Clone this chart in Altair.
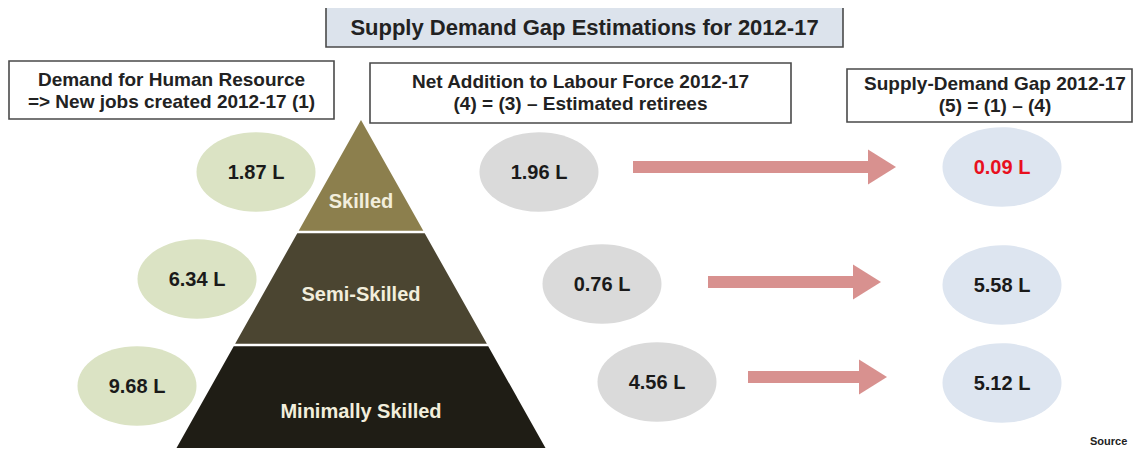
import altair as alt
import pandas as pd

# ---------------- data ----------------
title = "Supply Demand Gap Estimations for 2012-17"
header_demand = ["Demand for  Human Resource", "=> New jobs created 2012-17 (1)"]
header_supply = ["Net Addition to Labour Force 2012-17", "(4) = (3) \u2013 Estimated retirees"]
header_gap = ["Supply-Demand Gap 2012-17", "(5) = (1) \u2013 (4)"]
levels = ["Skilled", "Semi-Skilled", "Minimally Skilled"]
demand = [1.87, 6.34, 9.68]   # lakh new jobs (1)
supply = [1.96, 0.76, 4.56]   # lakh net addition to labour force (4)
gap = [0.09, 5.58, 5.12]      # lakh supply-demand gap (5)
unit = "L"
source_note = "Source"

# ---------------- layout (picture pixels) ----------------
W, H, M = 1141, 456, 8
CW, CH = W - 2 * M, H - 2 * M          # chart size that fits the window
FONT = "Liberation Sans"
title_box = (326, 843, 6, 47)
header_boxes = [(9, 334, 61, 119), (370, 791, 63, 123), (847, 1132, 69, 122)]
header_line_y = [(80, 102), (82, 104), (84, 106)]
apex_x, apex_y, base_y, base_half = 361, 120, 456, 189
band_bounds = [120, 232, 345, 456]
band_colors = ["#8c7f4d", "#4b4531", "#1f1d15"]
label_y = [202, 295, 412]
demand_pos = [(256, 172), (197, 279), (137, 386)]
supply_pos = [(539, 172), (602, 284), (657, 382)]
gap_pos = [(1002, 167), (1002, 285), (1002, 383)]
arrows = [(633, 868, 167), (708, 853, 282), (748, 859, 377)]  # shaft start, head start, centre y
ELLIPSE = ("M -1.5 0 C -1.5 -0.5523 -0.8284 -1 0 -1 C 0.8284 -1 1.5 -0.5523 1.5 0 "
           "C 1.5 0.5523 0.8284 1 0 1 C -0.8284 1 -1.5 0.5523 -1.5 0 Z")
HEAD = "M -0.8 -1 L 0.8 0 L -0.8 1 Z"

xs = alt.Scale(domain=[M, M + CW], range=[0, CW], nice=False, zero=False)
ys = alt.Scale(domain=[M, M + CH], range=[0, CH], nice=False, zero=False)


def X(f):
    return alt.X(f"{f}:Q", scale=xs, axis=None)


def Y(f):
    return alt.Y(f"{f}:Q", scale=ys, axis=None, stack=None)


# boxes
box_rows = [dict(x0=title_box[0], x1=title_box[1], y0=title_box[2], y1=title_box[3],
                 fill="#dce3ec")]
for b in header_boxes:
    box_rows.append(dict(x0=b[0], x1=b[1], y0=b[2], y1=b[3], fill="#ffffff"))
boxes = alt.Chart(pd.DataFrame(box_rows)).mark_rect(stroke="#4a4a4a", strokeWidth=1.6).encode(
    x=X("x0"), x2=alt.X2("x1:Q"), y=Y("y0"), y2=alt.Y2("y1:Q"),
    fill=alt.Fill("fill:N", scale=None))

# header texts
ht_rows = [dict(x=(title_box[0] + title_box[1]) / 2, y=(title_box[2] + title_box[3]) / 2 + 1,
                t=title, s=22)]
for b, lines, ly in zip(header_boxes, [header_demand, header_supply, header_gap], header_line_y):
    for line, yy in zip(lines, ly):
        ht_rows.append(dict(x=(b[0] + b[1]) / 2, y=yy, t=line, s=19))
ht_rows[-2]["x"] = ht_rows[-1]["x"] = 995
htext = alt.Chart(pd.DataFrame(ht_rows)).mark_text(
    font=FONT, fontWeight="bold", color="#222222", align="center", baseline="middle").encode(
    x=X("x"), y=Y("y"), text="t:N", size=alt.Size("s:Q", scale=None))


# pyramid (each band a trapezoid drawn as an area over x)
def half(y):
    return base_half * (y - apex_y) / (base_y - apex_y)


pyr_rows = []
for i, lv in enumerate(levels):
    yt = band_bounds[i] + (1.2 if i > 0 else 0)
    yb = band_bounds[i + 1] - (1.2 if i < 2 else -4)
    ht, hb = half(yt), half(yb)
    for xx, y_top in ((apex_x - hb, yb), (apex_x - ht, yt), (apex_x + ht, yt), (apex_x + hb, yb)):
        pyr_rows.append(dict(band=lv, x=xx, yt=y_top, yb=yb))
pyramid = alt.Chart(pd.DataFrame(pyr_rows)).mark_area(opacity=1).encode(
    x=X("x"), y=Y("yt"), y2=alt.Y2("yb:Q"),
    fill=alt.Fill("band:N", scale=alt.Scale(domain=levels, range=band_colors), legend=None),
    detail="band:N")

lab_rows = [dict(x=apex_x, y=yy, t=lv) for lv, yy in zip(levels, label_y)]
plabels = alt.Chart(pd.DataFrame(lab_rows)).mark_text(
    font=FONT, fontWeight="bold", fontSize=20, color="#f2eedc", align="center",
    baseline="middle").encode(x=X("x"), y=Y("y"), text="t:N")

# ellipses
ell_rows = []
for i in range(3):
    ell_rows.append(dict(x=demand_pos[i][0], y=demand_pos[i][1], fill="#dbe3c4",
                         t=f"{demand[i]:.2f} {unit}", tc="#1a1a1a"))
    ell_rows.append(dict(x=supply_pos[i][0], y=supply_pos[i][1], fill="#dadada",
                         t=f"{supply[i]:.2f} {unit}", tc="#1a1a1a"))
    ell_rows.append(dict(x=gap_pos[i][0], y=gap_pos[i][1], fill="#dde5f0",
                         t=f"{gap[i]:.2f} {unit}",
                         tc="#e8101e" if supply[i] > demand[i] else "#1a1a1a"))
edf = pd.DataFrame(ell_rows)
ellipses = alt.Chart(edf).mark_point(shape=ELLIPSE, size=6300, filled=True, opacity=1,
                                     strokeWidth=0).encode(
    x=X("x"), y=Y("y"), fill=alt.Fill("fill:N", scale=None))
etext = alt.Chart(edf).mark_text(font=FONT, fontWeight="bold", fontSize=20, align="center",
                                 baseline="middle", dy=1).encode(
    x=X("x"), y=Y("y"), text="t:N", color=alt.Color("tc:N", scale=None))

# arrows
shaft_rows = [dict(x0=a[0], x1=a[1] + 1, y0=a[2] - 6, y1=a[2] + 6) for a in arrows]
shafts = alt.Chart(pd.DataFrame(shaft_rows)).mark_rect(color="#d8918f").encode(
    x=X("x0"), x2=alt.X2("x1:Q"), y=Y("y0"), y2=alt.Y2("y1:Q"))
head_rows = [dict(x=a[1] + 14, y=a[2]) for a in arrows]
heads = alt.Chart(pd.DataFrame(head_rows)).mark_point(
    shape=HEAD, size=1225, filled=True, opacity=1, color="#d8918f", strokeWidth=0).encode(
    x=X("x"), y=Y("y"))

src = alt.Chart(pd.DataFrame([dict(x=1090, y=442, t=source_note)])).mark_text(
    font=FONT, fontWeight="bold", fontSize=11, color="#222222", align="left",
    baseline="middle").encode(x=X("x"), y=Y("y"), text="t:N")

chart = alt.layer(boxes, htext, pyramid, plabels, ellipses, etext, shafts, heads, src).properties(
    width=CW, height=CH, padding=0, autosize="none", background="white"
).configure_view(strokeWidth=0)

chart.save("out.html", embed_options={"renderer": "svg", "actions": False})
